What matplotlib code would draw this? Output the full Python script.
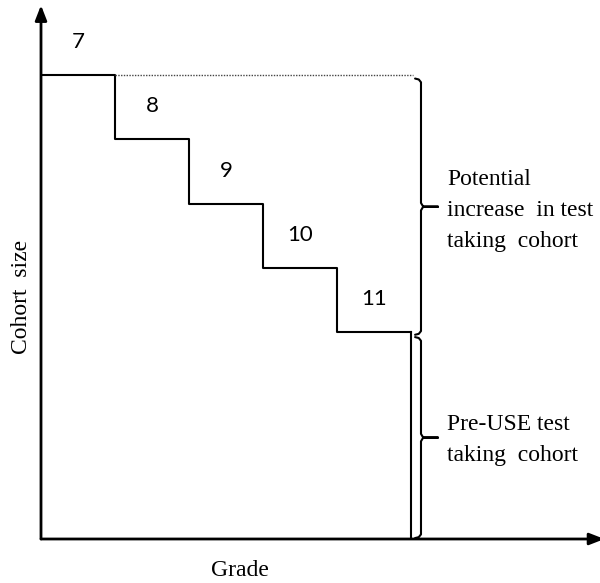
import numpy as np
import matplotlib
matplotlib.use("Agg")
from matplotlib import pyplot as plt

# Daten
grades = ["7", "8", "9", "10", "11"]
cohort = [100, 86.2, 72.2, 58.4, 44.6]   # Kohortengroesse je Klasse (relativ)
pre_use = 43.5                            # bisherige Testkohorte
label_top = "Potential\nincrease  in test\ntaking  cohort"
label_bot = "Pre-USE test\ntaking  cohort"

XMAX = 7.554
YMAX = 114.4

fig = plt.figure(figsize=(6.0, 5.83), dpi=100)
ax = fig.add_axes([41/600, 44/583, 559/600, 531/583])
ax.set_xlim(0, XMAX)
ax.set_ylim(0, YMAX)
ax.axis("off")

# Achsen mit Pfeilen
pfeil = dict(arrowstyle="-|>,head_length=0.9,head_width=0.35",
             lw=2, color="black", shrinkA=0, shrinkB=0)
ax.annotate("", xy=(0, YMAX + 0.6), xytext=(0, 0), arrowprops=pfeil,
            annotation_clip=False)
ax.annotate("", xy=(XMAX + 0.06, 0), xytext=(0, 0), arrowprops=pfeil,
            annotation_clip=False)

# Treppe
n = len(grades)
xs = np.arange(n + 1)
ys = cohort + [cohort[-1]]
ax.step(xs, ys, where="post", color="black", lw=1.5)
ax.plot([n, n], [cohort[-1], 0], color="black", lw=1.5)

# gepunktete Linie oben
ax.plot([1, n + 0.03], [cohort[0], cohort[0]], color="#444444", lw=1,
        ls=(0, (1, 1)))

# Klassen-Beschriftung
for i, g in enumerate(grades):
    ax.text(i + 0.5, cohort[i] + 7, g, ha="center", va="center",
            fontsize=16, family="Lato")


def brace(x, top, bot, tip_len=0.23, curl=0.08, dy=0.8):
    mid = (top + bot) / 2
    k = 0.03
    px = [x - curl, x - k, x, x, x + k, x + tip_len, x + k, x, x, x - k, x - curl]
    py = [top, top - 0.2, top - dy, mid + dy, mid, mid, mid, mid - dy,
          bot + dy, bot + 0.2, bot]
    ax.plot(px, py, color="black", lw=1.5, solid_joinstyle="round",
            solid_capstyle="round")
    return mid


bx = 5.135
m1 = brace(bx, cohort[0] - 0.8, cohort[-1] - 0.6)
m2 = brace(bx, pre_use, 0.2)

ax.text(5.486, m1 - 0.8, label_top, ha="left", va="center", fontsize=17,
        family="Liberation Serif", linespacing=1.62)
ax.text(5.486, m2 - 0.6, label_bot, ha="left", va="center", fontsize=17,
        family="Liberation Serif", linespacing=1.62)

# Achsentitel
fig.text(240/600, 1 - 570/583, "Grade", ha="center", va="center",
         fontsize=17, family="Liberation Serif")
fig.text(22/600, 1 - 297/583, "Cohort  size", ha="center", va="center",
         fontsize=17, family="Liberation Serif", rotation=90)

fig.savefig("out.png", dpi=100)
